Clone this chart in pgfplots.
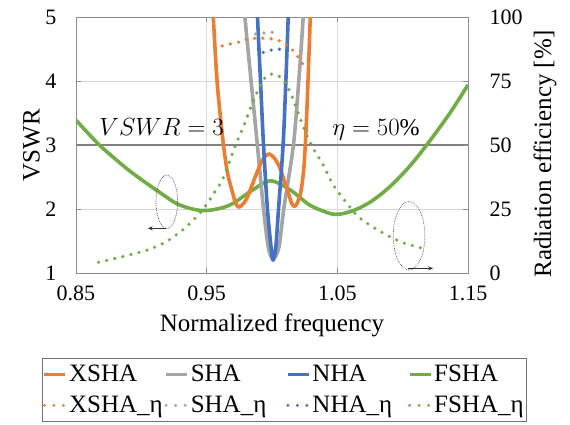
\documentclass[border=0pt]{standalone}
\usepackage{fontspec}
\setmainfont{Liberation Serif}
\usepackage{pgfplots}
\pgfplotsset{compat=1.18}
\usetikzlibrary{arrows.meta}
\definecolor{cOr}{HTML}{ED7D31}
\definecolor{cGr}{HTML}{A5A5A5}
\definecolor{cBl}{HTML}{4472C4}
\definecolor{cGn}{HTML}{70AD47}
\tikzset{
  solsty/.style={line width=3.6pt, line join=round, smooth, tension=0.5},
  dotsty/.style={line width=3.6pt, line cap=round, dash pattern=on 0pt off 8.3pt, smooth, tension=0.5},
  legsol/.style={line width=3pt},
  legdot/.style={line width=3.2pt, line cap=round, dash pattern=on 0pt off 9.5pt},
}
\pgfplotsset{
  common/.style={
    at={(0pt,0pt)}, anchor=south west, scale only axis,
    width=392pt, height=256pt, xmin=0.85, xmax=1.15,
    axis line style={draw=black!45, line width=0.8pt},
    tick style={draw=black!45, line width=0.8pt},
    tick align=inside, major tick length=5pt,
    ticklabel style={font=\fontsize{22}{26}\selectfont},
    /pgf/number format/assume math mode=true,
  },
}
\begin{document}
\begin{tikzpicture}
\useasboundingbox (-76pt,-151pt) rectangle (494pt,273pt);
\begin{axis}[common,
  ymin=1, ymax=5,
  xtick={0.85,0.95,1.05,1.15}, xticklabels={0.85,0.95,1.05,1.15},
  ytick={1,2,3,4,5},
  grid=major, grid style={draw=black!15, line width=0.6pt},
  yticklabel style={xshift=-16pt},
  xticklabel style={yshift=-9pt},
  xlabel={Normalized frequency}, ylabel={VSWR},
  every axis x label/.style={at={(axis description cs:0.5,0)}, anchor=north, yshift=-37pt, font=\fontsize{25}{30}\selectfont},
  every axis y label/.style={at={(axis description cs:-0.083,0.5)}, anchor=south, rotate=90, font=\fontsize{25}{30}\selectfont},
]
\addplot[black!50, line width=1.3pt] coordinates {(0.85,3) (1.15,3)};
% FSHA
\addplot[cGn, solsty] coordinates {
(0.85,3.39) (0.8679,3.00) (0.8883,2.64) (0.9000,2.46) (0.9112,2.30) (0.9265,2.09) (0.9372,2.01) (0.9444,1.98) (0.9520,1.98) (0.9620,2.02) (0.9704,2.09) (0.9832,2.27) (0.9985,2.44) (1.0138,2.30) (1.0290,2.06) (1.0444,1.93) (1.0520,1.92) (1.0600,1.96) (1.0673,2.02) (1.0775,2.14) (1.0903,2.35) (1.1050,2.66) (1.1184,3.00) (1.1362,3.50) (1.15,3.94)};
% SHA
\addplot[cGr, solsty] coordinates {
(0.9785,5.4) (0.9793,5) (0.9840,4.0) (0.9888,3.0) (0.9935,2.0) (0.9972,1.4) (1.0008,1.22) (1.0053,1.4) (1.0090,2.0) (1.0164,3.0) (1.0205,4.0) (1.0239,5.0) (1.0247,5.4)};
% XSHA
\addplot[cOr, solsty] coordinates {
(0.9525,5.6) (0.9550,5.0) (0.9581,3.96) (0.9627,3.03) (0.9660,2.56) (0.9699,2.25) (0.9722,2.09) (0.9745,2.03) (0.9770,2.06) (0.9806,2.16) (0.9845,2.36) (0.9883,2.56) (0.9930,2.78) (0.9975,2.86) (1.0020,2.79) (1.0061,2.64) (1.0095,2.43) (1.0125,2.25) (1.0150,2.09) (1.0172,2.04) (1.0195,2.10) (1.0222,2.28) (1.0242,2.60) (1.0255,3.0) (1.0268,3.6) (1.0281,4.3) (1.0293,5.0) (1.0300,5.4)};
% NHA
\addplot[cBl, solsty] coordinates {
(0.9883,5.4) (0.9889,5) (0.9912,4.0) (0.9935,3.0) (0.9965,2.0) (0.9993,1.4) (1.0008,1.2) (1.0029,1.4) (1.0050,2.0) (1.0085,3.0) (1.0106,4.0) (1.0124,5.0) (1.0130,5.4)};
\node[anchor=base west, inner sep=0pt, font=\fontsize{24}{28}\selectfont] at (axis cs:0.8678,3.156) {$VSWR=3$};
\node[anchor=base east, inner sep=0pt, font=\fontsize{24}{28}\selectfont] at (axis cs:1.1132,3.156) {$\eta=50\%$};
\draw[black!70, densely dotted, line width=0.7pt] (axis cs:0.9195,2.114) ellipse [x radius=10.8pt, y radius=26.7pt];
\draw[black!80, line width=1pt, -{Stealth[length=5pt,width=4pt]}] (axis cs:0.9189,1.698) -- (axis cs:0.9049,1.698);
\draw[black!70, densely dotted, line width=0.7pt] (axis cs:1.1049,1.581) ellipse [x radius=15.8pt, y radius=34.2pt];
\draw[black!80, line width=1pt, -{Stealth[length=5pt,width=4pt]}] (axis cs:1.104,1.073) -- (axis cs:1.1233,1.073);
\end{axis}
\begin{axis}[common,
  ymin=0, ymax=100, ytick={0,25,50,75,100},
  axis y line*=right, axis x line=none,
  yticklabel style={xshift=18pt},
  ylabel={Radiation efficiency [\%]},
  every axis y label/.style={at={(axis description cs:1.158,0.465)}, anchor=north, rotate=90, font=\fontsize{25}{30}\selectfont},
  legend columns=4,
  legend image code/.code={\draw[#1] (0pt,0pt) -- (21pt,0pt);},
  legend style={
    at={(0.532,-0.332)}, anchor=north,
    draw=black!55, line width=0.8pt, inner xsep=0.5pt, inner ysep=0.5pt,
    font=\fontsize{25}{30}\selectfont,
    nodes={text width=90pt, inner xsep=2pt, inner ysep=0pt, minimum height=31pt},
    /tikz/every even column/.append style={column sep=3.5pt},
  },
  legend cell align=left,
]
\addlegendimage{cOr, legsol}\addlegendentry{XSHA}
\addlegendimage{cGr, legsol}\addlegendentry{SHA}
\addlegendimage{cBl, legsol}\addlegendentry{NHA}
\addlegendimage{cGn, legsol}\addlegendentry{FSHA}
\addlegendimage{cOr, legdot}\addlegendentry{XSHA\_η}
\addlegendimage{cGr, legdot}\addlegendentry{SHA\_η}
\addlegendimage{cBl, legdot}\addlegendentry{NHA\_η}
\addlegendimage{cGn, legdot}\addlegendentry{FSHA\_η}
% FSHA_eta
\addplot[cGn, dotsty, forget plot] coordinates {
(0.8673,4.2) (0.8857,6.4) (0.9048,9.0) (0.9189,12.2) (0.9316,16.8) (0.9411,21.4) (0.9487,25.9) (0.9564,31.8) (0.9628,37.2) (0.9716,49.3) (0.9788,58.1) (0.9857,67.2) (0.9933,75.4) (0.9992,77.7) (1.0048,77.1) (1.0094,75.0) (1.0150,69.3) (1.0206,61.7) (1.0265,53.9) (1.0323,48.0) (1.0392,42.2) (1.0469,34.4) (1.0571,27.4) (1.0660,22.0) (1.0775,17.9) (1.0890,14.5) (1.1004,11.8) (1.1127,10.0) (1.1188,9.0)};
% XSHA_eta
\addplot[cOr, dotsty, forget plot] coordinates {
(0.9620,88.7) (0.9680,89.5) (0.9747,90.2) (0.9813,91.4) (0.9875,91.7) (0.9941,91.7) (1.0002,91.4) (1.0061,90.6) (1.0112,89.1) (1.0170,86.5) (1.0239,81.3)};
% SHA_eta
\addplot[cGr, dotsty, forget plot] coordinates {
(0.9875,93.4) (0.9937,93.7) (1.0000,94.0) (1.0061,94.3)};
% NHA_eta
\addplot[cBl, dotsty, forget plot] coordinates {
(0.9933,86.2) (0.9997,87.1) (1.0061,87.4)};
\end{axis}
\end{tikzpicture}
\end{document}
